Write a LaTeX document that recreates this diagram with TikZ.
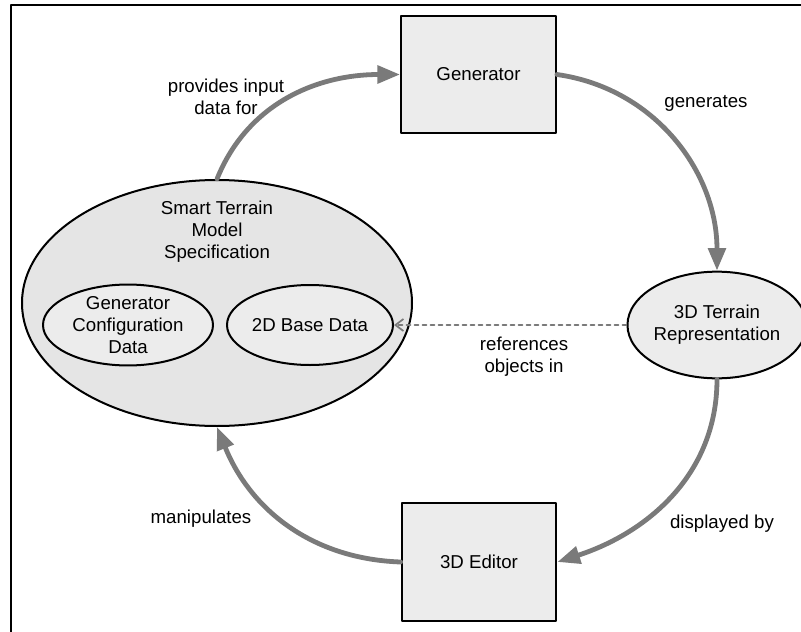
\documentclass[tikz,border=0pt]{standalone}
\usepackage{fontspec}
\setmainfont{Liberation Sans}
\usetikzlibrary{shapes.geometric,arrows.meta}
\definecolor{boxfill}{gray}{0.925}
\definecolor{bigfill}{gray}{0.90}
\definecolor{arrowgray}{gray}{0.48}
\begin{document}
\begin{tikzpicture}[x=0.75pt,y=-0.75pt,line cap=round,line join=round,
  every node/.style={inner sep=1pt,font=\fontsize{14}{16.5}\selectfont},
  box/.style={draw,line width=1.6pt,fill=boxfill,minimum width=116pt,minimum height=88pt},
  oval/.style={draw,ellipse,line width=1.5pt,fill=boxfill,align=center,inner sep=0pt},
  flow/.style={draw=arrowgray,line width=3.6pt,-{Triangle[length=17pt,width=13pt]}},
  lbl/.style={align=center}]
  \useasboundingbox (0,0) rectangle (801,632);
  \draw[line width=1.5pt] (11,632) -- (11,5) -- (801,5);
  \node[box] (gen) at (478.5,74.5) {Generator};
  \node[box] (edit) at (479,562) {3D Editor};
  \node[oval,fill=bigfill,minimum width=292.5pt,minimum height=184.5pt] (stm) at (217,303) {};
  \node[lbl] (stmtext) at (217,232) {Smart Terrain\\Model\\Specification};
  \node[oval,minimum width=127.5pt,minimum height=60pt] (gcd) at (128,325) {Generator\\Configuration\\Data};
  \node[oval,minimum width=124.5pt,minimum height=60pt] (bdd) at (310,325) {2D Base Data};
  \node[oval,minimum width=123pt,minimum height=80pt] (ter) at (717,325) {3D Terrain\\Representation};
  \draw[flow] (stm.north) to[out=68,in=180] (gen.west);
  \draw[flow] (gen.east) to[out=-8,in=90] (ter.north);
  \draw[flow] (ter.south) to[out=-90,in=18] (edit.east);
  \draw[flow] (edit.west) to[out=178,in=-68] (stm.south);
  \draw[draw=arrowgray,line width=1.3pt,dashed,-{Straight Barb[length=6pt,width=9pt]}] (ter.west) -- (bdd.east);
  \node[lbl] (provides) at (226,97) {provides input\\data for};
  \node[lbl] (generates) at (706,103) {generates};
  \node[lbl] (references) at (524,357) {references\\objects in};
  \node[lbl] (displayed) at (722,524) {displayed by};
  \node[lbl] (manipulates) at (201,519) {manipulates};
\end{tikzpicture}
\end{document}
